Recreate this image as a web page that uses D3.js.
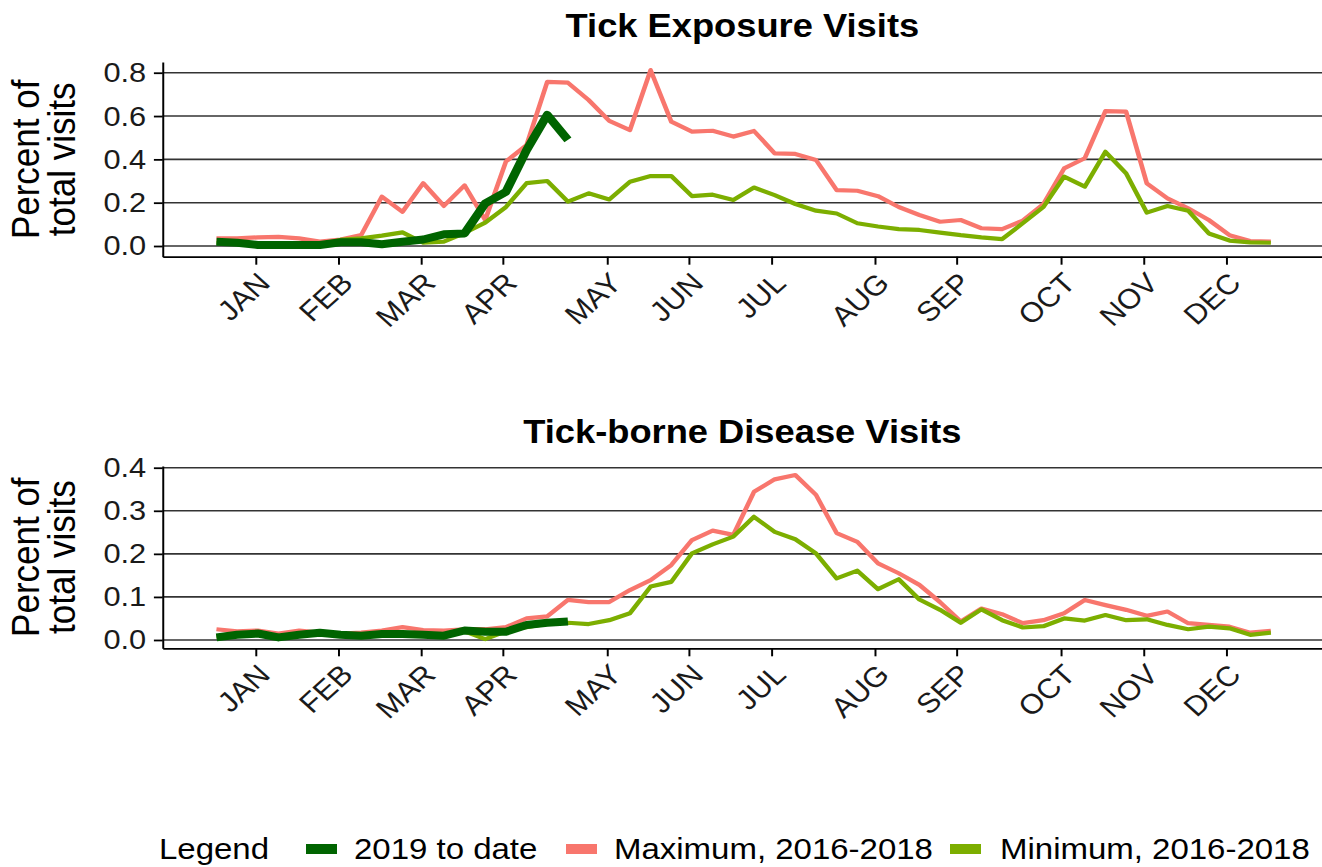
<!DOCTYPE html>
<html>
<head>
<meta charset="utf-8">
<script src="https://cdn.jsdelivr.net/npm/d3@7"></script>
<style>
  body { margin: 0; background: #fff; }
  svg { display: block; }
  text { font-family: "Liberation Sans", Arial, Helvetica, sans-serif; }
</style>
</head>
<body>
<div id="chart"></div>
<script>
// weekly values, weeks 1..52
var weeks = d3.range(1, 53);
var monthLabels = ["JAN", "FEB", "MAR", "APR", "MAY", "JUN", "JUL", "AUG", "SEP", "OCT", "NOV", "DEC"];
var monthTickWeeks = [2.9, 6.9, 10.9, 14.85, 19.9, 23.85, 27.85, 32.85, 36.8, 41.85, 45.85, 49.85];

var exposure2019 = [0.02, 0.015, 0.005, 0.005, 0.005, 0.005, 0.017, 0.017, 0.008, 0.02, 0.03, 0.054,
  0.058, 0.197, 0.25, 0.443, 0.605, 0.49];
var exposureMax = [0.035, 0.035, 0.04, 0.042, 0.035, 0.02, 0.03, 0.05, 0.228, 0.158, 0.29, 0.185,
  0.28, 0.12, 0.39, 0.466, 0.758, 0.754, 0.674, 0.578, 0.535, 0.812, 0.574, 0.528, 0.532, 0.505,
  0.531, 0.428, 0.425, 0.397, 0.258, 0.255, 0.23, 0.18, 0.143, 0.112, 0.12, 0.082, 0.078, 0.117,
  0.194, 0.358, 0.405, 0.623, 0.62, 0.289, 0.22, 0.174, 0.12, 0.05, 0.023, 0.02];
var exposureMin = [0.015, 0.015, 0.008, 0.008, 0.005, 0.008, 0.028, 0.035, 0.048, 0.063, 0.015, 0.02,
  0.06, 0.108, 0.18, 0.29, 0.3, 0.205, 0.243, 0.215, 0.297, 0.323, 0.323, 0.23, 0.237, 0.212,
  0.27, 0.235, 0.194, 0.163, 0.15, 0.105, 0.09, 0.078, 0.074, 0.062, 0.05, 0.04, 0.032, 0.105,
  0.18, 0.32, 0.274, 0.435, 0.335, 0.154, 0.185, 0.163, 0.058, 0.025, 0.017, 0.015];

var disease2019 = [0.006, 0.012, 0.015, 0.006, 0.012, 0.017, 0.012, 0.01, 0.014, 0.014, 0.012, 0.01,
  0.022, 0.019, 0.019, 0.035, 0.04, 0.043];
var diseaseMax = [0.025, 0.02, 0.022, 0.015, 0.022, 0.017, 0.015, 0.017, 0.022, 0.03, 0.023, 0.022,
  0.025, 0.025, 0.03, 0.05, 0.055, 0.093, 0.088, 0.088, 0.116, 0.139, 0.174, 0.232, 0.254, 0.244,
  0.344, 0.373, 0.383, 0.337, 0.248, 0.228, 0.178, 0.155, 0.128, 0.088, 0.043, 0.073, 0.06, 0.039,
  0.046, 0.062, 0.093, 0.081, 0.07, 0.056, 0.066, 0.039, 0.035, 0.031, 0.017, 0.021];
var diseaseMin = [0.008, 0.012, 0.015, 0.006, 0.012, 0.015, 0.012, 0.01, 0.012, 0.012, 0.012, 0.01,
  0.02, 0.002, 0.02, 0.03, 0.038, 0.04, 0.037, 0.046, 0.062, 0.124, 0.135, 0.201, 0.222, 0.24,
  0.286, 0.251, 0.234, 0.201, 0.143, 0.161, 0.118, 0.141, 0.094, 0.07, 0.04, 0.071, 0.046, 0.029,
  0.032, 0.05, 0.045, 0.058, 0.046, 0.048, 0.035, 0.025, 0.031, 0.027, 0.012, 0.017];

var seriesNames = ["2019 to date", "Maximum, 2016-2018", "Minimum, 2016-2018"];
var seriesColors = ["#006400", "#F8766D", "#7CAE00"];

// the reference is stretched a bit horizontally, so draw in a narrower viewBox
var K = 1.1;
var width = 1322, height = 867;
var vw = width / K;

var svg = d3.select("#chart").append("svg")
  .attr("width", width).attr("height", height)
  .attr("viewBox", "0 0 " + vw + " " + height)
  .attr("preserveAspectRatio", "none");

var x = d3.scaleLinear().domain([-1.6, 54.6]).range([162.7 / K, 1324.6 / K]);

function drawPanel(title, titleY, yDomain, yRange, yTicks, data) {
  var y = d3.scaleLinear().domain(yDomain).range(yRange);
  var g = svg.append("g");

  g.append("text").attr("x", (162.7 + 1322) / 2 / K).attr("y", titleY)
    .attr("text-anchor", "middle").style("font-size", "33px").style("font-weight", "bold")
    .text(title);

  // horizontal grid
  g.selectAll(".grid").data(yTicks).enter().append("line")
    .attr("x1", x.range()[0]).attr("x2", vw)
    .attr("y1", function(d) { return y(d); }).attr("y2", function(d) { return y(d); })
    .attr("stroke", "#333").attr("stroke-width", 1.6);

  var yAxis = g.append("g").attr("transform", "translate(" + x.range()[0] + ",0)")
    .call(d3.axisLeft(y).tickValues(yTicks).tickFormat(d3.format(".1f"))
      .tickSize(8).tickSizeOuter(0).tickPadding(7));
  yAxis.selectAll("text").style("font-size", "28px").attr("fill", "#1a1a1a")
    .style("font-family", "'Liberation Sans', Arial, sans-serif");

  var xAxis = g.append("g").attr("transform", "translate(0," + yRange[0] + ")")
    .call(d3.axisBottom(x).tickValues(monthTickWeeks)
      .tickFormat(function(d, i) { return monthLabels[i]; })
      .tickSize(8).tickSizeOuter(0));
  xAxis.selectAll("text").attr("x", 0).attr("y", 0).attr("dy", "0.71em")
    .attr("transform", "translate(0,14) rotate(-45)")
    .style("text-anchor", "end").style("font-size", "28px").attr("fill", "#1a1a1a")
    .style("font-family", "'Liberation Sans', Arial, sans-serif");

  [yAxis, xAxis].forEach(function(a) {
    a.selectAll("path, line").attr("stroke", "#000").attr("stroke-width", 1.8);
  });

  var midY = (yRange[0] + yRange[1]) / 2;
  [["Percent of", 39], ["total visits", 75]].forEach(function(t) {
    g.append("text").attr("transform", "translate(" + t[1] / K + "," + midY + ") rotate(-90)")
      .attr("text-anchor", "middle").style("font-size", "35px").text(t[0]);
  });

  var line = d3.line()
    .x(function(d, i) { return x(weeks[i]); })
    .y(function(d) { return y(d); });

  // max, min, then 2019 on top
  [1, 2, 0].forEach(function(k) {
    g.append("path").datum(data[k]).attr("d", line)
      .attr("fill", "none").attr("stroke", seriesColors[k])
      .attr("stroke-width", k == 0 ? 8 : 4.2)
      .attr("stroke-linejoin", "round").attr("stroke-linecap", "butt");
  });
}

drawPanel("Tick Exposure Visits", 37, [-0.0494, 0.8495], [256.7, 62],
  [0, 0.2, 0.4, 0.6, 0.8], [exposure2019, exposureMax, exposureMin]);
drawPanel("Tick-borne Disease Visits", 443, [-0.0193, 0.404], [648.3, 466],
  [0, 0.1, 0.2, 0.3, 0.4], [disease2019, diseaseMax, diseaseMin]);

// legend
var legend = svg.append("g");
legend.append("text").attr("x", 159 / K).attr("y", 859).style("font-size", "30px").text("Legend");
var keyX = [306, 566, 950], labelX = [354, 614, 1000];
seriesNames.forEach(function(name, i) {
  legend.append("rect").attr("x", keyX[i] / K).attr("y", 844).attr("width", 31 / K).attr("height", 10)
    .attr("fill", seriesColors[i]);
  legend.append("text").attr("x", labelX[i] / K).attr("y", 859).style("font-size", "30px").text(name);
});
</script>
</body>
</html>
